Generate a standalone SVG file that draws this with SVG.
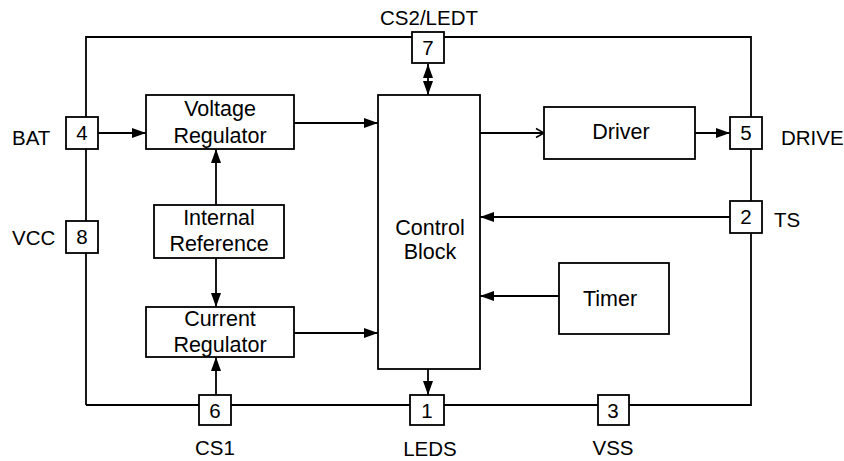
<svg xmlns="http://www.w3.org/2000/svg" width="844" height="461" viewBox="0 0 844 461">
<defs>
<style>
.box{fill:#fff;stroke:#000;stroke-width:1.8}
.ln{fill:none;stroke:#000;stroke-width:1.8}
.t{font-family:"Liberation Sans",Arial,sans-serif;font-size:20.5px;fill:#000;text-anchor:middle}
.b{font-family:"Liberation Sans",Arial,sans-serif;font-size:21.5px;fill:#000;text-anchor:middle}
.lbl{font-family:"Liberation Sans",Arial,sans-serif;font-size:20.5px;fill:#000}
</style>
<marker id="ah" markerUnits="userSpaceOnUse" markerWidth="15" markerHeight="11" refX="14" refY="5" orient="auto-start-reverse" viewBox="0 0 15 11">
<path d="M0,0 L14,5 L0,10 z" fill="#000"/>
</marker>
<marker id="oh" markerUnits="userSpaceOnUse" markerWidth="12" markerHeight="12" refX="10" refY="6" orient="auto" viewBox="0 0 12 12">
<path d="M2,1.5 L10,6 L2,10.5" fill="none" stroke="#000" stroke-width="1.5"/>
</marker>
</defs>
<rect width="844" height="461" fill="#fff"/>

<g id="connectors">
<path class="ln" d="M86,405 V37 H751 V405 H86"/>
<line class="ln" x1="98" y1="133" x2="146" y2="133" marker-end="url(#ah)"/>
<line class="ln" x1="294" y1="123" x2="378" y2="123" marker-end="url(#ah)"/>
<line class="ln" x1="294" y1="333" x2="378" y2="333" marker-end="url(#ah)"/>
<line class="ln" x1="216" y1="205" x2="216" y2="149" marker-end="url(#ah)"/>
<line class="ln" x1="216" y1="258" x2="216" y2="307" marker-end="url(#ah)"/>
<line class="ln" x1="216" y1="395" x2="216" y2="357" marker-end="url(#ah)"/>
<line class="ln" x1="428" y1="64" x2="428" y2="95" marker-start="url(#ah)" marker-end="url(#ah)"/>
<line class="ln" x1="428" y1="369" x2="428" y2="395" marker-end="url(#ah)"/>
<line class="ln" x1="480" y1="133" x2="544" y2="133" marker-end="url(#oh)"/>
<line class="ln" x1="695" y1="133" x2="730" y2="133" marker-end="url(#ah)"/>
<line class="ln" x1="730" y1="217" x2="480" y2="217" marker-end="url(#ah)"/>
<line class="ln" x1="559" y1="296" x2="480" y2="296" marker-end="url(#ah)"/>
</g>

<g id="voltage-regulator">
<rect class="box" x="146" y="95" width="148" height="54"/>
<text class="b" x="220" y="116">Voltage</text>
<text class="b" x="220" y="143">Regulator</text>
</g>
<g id="internal-reference">
<rect class="box" x="154" y="205" width="130" height="53"/>
<text class="b" x="219" y="225">Internal</text>
<text class="b" x="219" y="251">Reference</text>
</g>
<g id="current-regulator">
<rect class="box" x="146" y="307" width="148" height="50"/>
<text class="b" x="220" y="326">Current</text>
<text class="b" x="220" y="352">Regulator</text>
</g>
<g id="control-block">
<rect class="box" x="378" y="95" width="102" height="274"/>
<text class="b" x="430" y="235">Control</text>
<text class="b" x="430" y="259">Block</text>
</g>
<g id="driver">
<rect class="box" x="544" y="107" width="151" height="52"/>
<text class="b" x="621" y="139">Driver</text>
</g>
<g id="timer">
<rect class="box" x="559" y="263" width="110" height="71"/>
<text class="b" x="610" y="306">Timer</text>
</g>

<g id="pin7">
<rect class="box" x="412" y="32" width="32" height="31"/>
<text class="t" x="428" y="55">7</text>
<text class="t" x="429" y="25">CS2/LEDT</text>
</g>
<g id="pin4">
<rect class="box" x="66" y="117" width="32" height="32"/>
<text class="t" x="82" y="140">4</text>
<text class="lbl" x="12" y="145">BAT</text>
</g>
<g id="pin8">
<rect class="box" x="66" y="221" width="32" height="32"/>
<text class="t" x="82" y="244">8</text>
<text class="lbl" x="12" y="245">VCC</text>
</g>
<g id="pin5">
<rect class="box" x="730" y="117" width="32" height="32"/>
<text class="t" x="746" y="140">5</text>
<text class="lbl" x="781" y="145">DRIVE</text>
</g>
<g id="pin2">
<rect class="box" x="730" y="201" width="32" height="32"/>
<text class="t" x="746" y="224">2</text>
<text class="lbl" x="774" y="227">TS</text>
</g>
<g id="pin6">
<rect class="box" x="199" y="395" width="32" height="30"/>
<text class="t" x="215" y="418">6</text>
<text class="t" x="215" y="455">CS1</text>
</g>
<g id="pin1">
<rect class="box" x="410" y="395" width="34" height="30"/>
<text class="t" x="427" y="418">1</text>
<text class="t" x="430" y="456">LEDS</text>
</g>
<g id="pin3">
<rect class="box" x="598" y="395" width="31" height="30"/>
<text class="t" x="613" y="418">3</text>
<text class="t" x="613" y="455">VSS</text>
</g>
</svg>
